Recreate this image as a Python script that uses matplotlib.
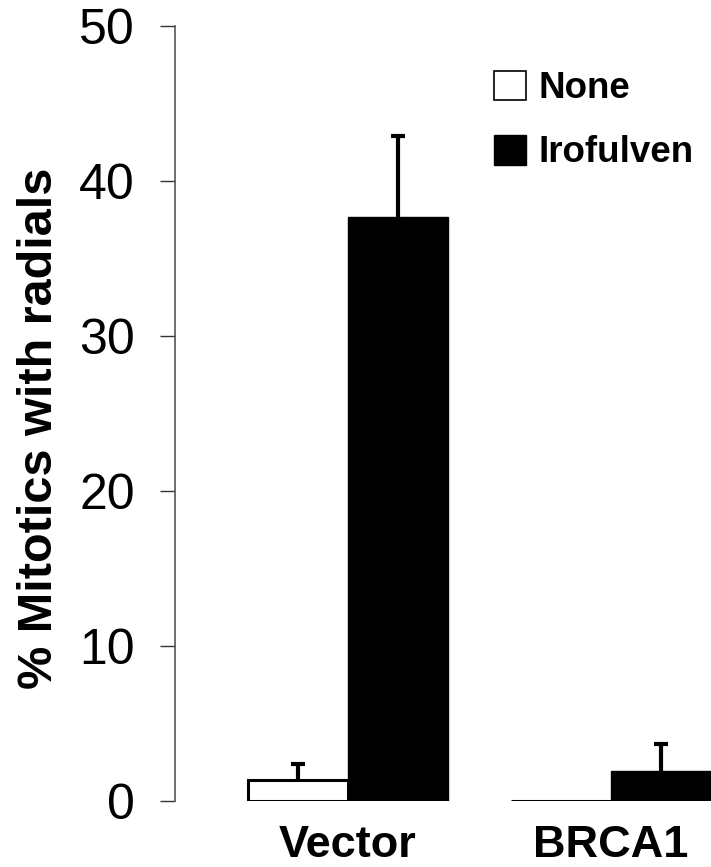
import matplotlib
matplotlib.use("Agg")
import matplotlib.pyplot as plt
from matplotlib.patches import Patch
import numpy as np

plt.rcParams["font.family"] = ["Liberation Sans", "DejaVu Sans"]

# ── data ──────────────────────────────────────────────────────────────
groups = ["Vector", "BRCA1"]
none_vals = [1.35, 0.0]
none_err = [1.05, np.nan]
iro_vals = [37.7, 1.95]
iro_err = [5.2, 1.7]
yticks = [0, 10, 20, 30, 40, 50]

# ── figure ────────────────────────────────────────────────────────────
fig = plt.figure(figsize=(7.11, 8.67), dpi=100)
ax = fig.add_axes([0.246, 0.0761, 0.754, 0.894])

x = np.arange(len(groups))
w = 0.38
ekw = dict(elinewidth=3, capthick=3, ecolor="black")

b1 = ax.bar(x - w / 2, none_vals, w, color="white", edgecolor="black", linewidth=2.2,
            yerr=[np.zeros(len(groups)), none_err], capsize=5, error_kw=ekw)
b2 = ax.bar(x + w / 2, iro_vals, w, color="black", edgecolor="black", linewidth=1,
            yerr=[np.zeros(len(groups)), iro_err], capsize=5, error_kw=ekw)

# only the upper caps are shown
for b in (b1, b2):
    caps = b.errorbar.lines[1]
    if len(caps) == 2:
        caps[0].set_visible(False)

ax.set_ylim(0, 50)
ax.set_xlim(-0.658, 1.38)
ax.set_yticks(yticks)
ax.set_xticks(x)
ax.set_xticklabels(groups, fontsize=32.5, fontweight="bold")
ax.tick_params(axis="x", length=0, pad=17)
ax.tick_params(axis="y", labelsize=36, length=11, width=1, pad=18,
               color="#333333", direction="out")

for s in ["top", "right", "bottom"]:
    ax.spines[s].set_visible(False)
ax.spines["left"].set_color("#555555")
ax.spines["left"].set_linewidth(1.2)

ax.set_ylabel("% Mitotics with radials", fontsize=35, fontweight="bold")
ax.yaxis.set_label_coords(-0.211, 0.481)

handles = [Patch(facecolor="white", edgecolor="black", linewidth=1.2, label="None"),
           Patch(facecolor="black", edgecolor="black", label="Irofulven")]
ax.legend(handles=handles, loc="upper left", bbox_to_anchor=(0.561, 0.966),
          frameon=False, handlelength=0.86, handleheight=0.86,
          handletextpad=0.36, labelspacing=0.78, borderpad=0,
          prop=dict(weight="bold", size=26.5))

fig.savefig("out.png", dpi=100)
